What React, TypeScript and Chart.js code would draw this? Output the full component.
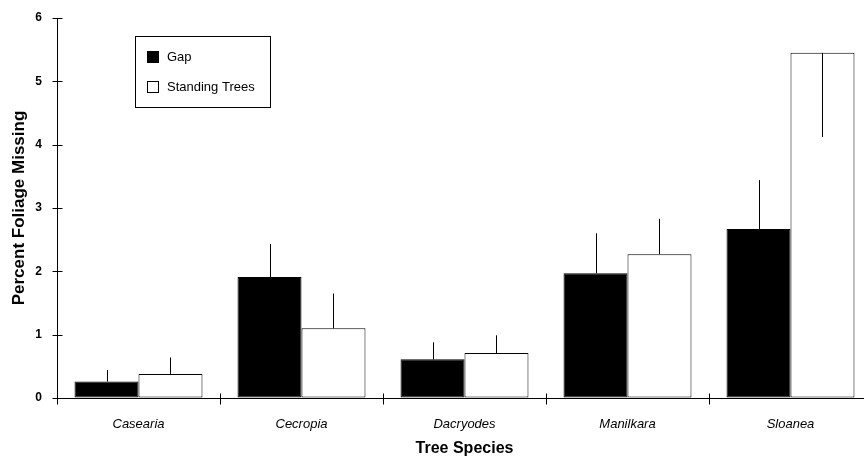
import React, { useEffect, useRef } from "react";
import { Chart, registerables } from "chart.js";

Chart.register(...registerables);

const categories = ["Casearia", "Cecropia", "Dacryodes", "Manilkara", "Sloanea"];
const gapValues = [0.26, 1.91, 0.61, 1.97, 2.67];
const gapErrors = [0.18, 0.52, 0.27, 0.63, 0.77];
const standingValues = [0.38, 1.1, 0.71, 2.27, 5.45];
const standingErrors = [0.26, 0.55, 0.28, 0.56, -1.33];
const yTicks = [0, 1, 2, 3, 4, 5, 6];
const seriesLabels = ["Gap", "Standing Trees"];

const FONT = "'Liberation Sans', Arial, Helvetica, sans-serif";

const errorBarPlugin = {
  id: "errorBars",
  afterDatasetsDraw(chart: any) {
    const { ctx, chartArea } = chart;
    const yScale = chart.scales.y;
    ctx.save();
    ctx.beginPath();
    ctx.rect(chartArea.left, chartArea.top - 1, chartArea.right - chartArea.left, chartArea.bottom - chartArea.top + 1);
    ctx.clip();
    ctx.strokeStyle = "#000";
    ctx.lineWidth = 1;
    chart.data.datasets.forEach((ds: any, di: number) => {
      const meta = chart.getDatasetMeta(di);
      const errs: number[] = ds.errors;
      meta.data.forEach((bar: any, i: number) => {
        const v = ds.data[i];
        const e = errs[i];
        const x = Math.round(bar.x) + 0.5;
        const y0 = yScale.getPixelForValue(v);
        const y1 = yScale.getPixelForValue(v + e);
        ctx.beginPath();
        ctx.moveTo(x, y0);
        ctx.lineTo(x, y1);
        ctx.stroke();
      });
    });
    ctx.restore();
  },
};

const axisTicksPlugin = {
  id: "crossTicks",
  afterDraw(chart: any) {
    const { ctx, chartArea } = chart;
    const yScale = chart.scales.y;
    const xScale = chart.scales.x;
    ctx.save();
    ctx.strokeStyle = "#000";
    ctx.lineWidth = 1;
    const ax = Math.round(chartArea.left) + 0.5;
    yTicks.forEach((t) => {
      const y = Math.round(yScale.getPixelForValue(t)) + 0.5;
      ctx.beginPath();
      ctx.moveTo(ax - 5, y);
      ctx.lineTo(ax + 5, y);
      ctx.stroke();
    });
    const by = Math.round(chartArea.bottom) + 0.5;
    for (let i = 0; i <= categories.length; i++) {
      const x = Math.round(xScale.getPixelForValue(i - 0.5)) + 0.5;
      ctx.beginPath();
      ctx.moveTo(x, by - 5);
      ctx.lineTo(x, by + 6);
      ctx.stroke();
    }
    ctx.restore();
  },
};

const legendBoxPlugin = {
  id: "legendBox",
  afterDraw(chart: any) {
    const { ctx, chartArea } = chart;
    const left = chartArea.left + 78;
    const top = chartArea.top + 18;
    ctx.save();
    ctx.strokeStyle = "#000";
    ctx.lineWidth = 1;
    ctx.fillStyle = "#fff";
    ctx.fillRect(left, top, 135, 71);
    ctx.strokeRect(left + 0.5, top + 0.5, 135, 71);
    ctx.font = `13px ${FONT}`;
    ctx.textBaseline = "middle";
    chart.data.datasets.forEach((ds: any, i: number) => {
      const cy = top + 21 + i * 30;
      ctx.fillStyle = ds.backgroundColor;
      ctx.fillRect(left + 12, cy - 6, 12, 12);
      ctx.strokeStyle = "#000";
      ctx.strokeRect(left + 12.5, cy - 5.5, 11, 11);
      ctx.fillStyle = "#000";
      ctx.fillText(ds.label, left + 32, cy);
    });
    ctx.restore();
  },
};

export default function App() {
  const canvasRef = useRef<HTMLCanvasElement | null>(null);

  useEffect(() => {
    if (!canvasRef.current) return;
    const chart = new Chart(canvasRef.current, {
      type: "bar",
      data: {
        labels: categories,
        datasets: [
          {
            label: seriesLabels[0],
            data: gapValues,
            errors: gapErrors,
            backgroundColor: "#000",
            borderColor: "#000",
            borderWidth: 1,
            borderSkipped: false,
            categoryPercentage: 0.785,
            barPercentage: 1.0,
          } as any,
          {
            label: seriesLabels[1],
            data: standingValues,
            errors: standingErrors,
            backgroundColor: "#fff",
            borderColor: "#000",
            borderWidth: 1,
            borderSkipped: false,
            categoryPercentage: 0.785,
            barPercentage: 1.0,
          } as any,
        ],
      },
      options: {
        responsive: false,
        animation: false,
        layout: { padding: { top: 18, right: 8, left: 0, bottom: 0 } },
        plugins: {
          legend: { display: false },
          tooltip: { enabled: false },
        },
        scales: {
          x: {
            afterFit: (s: any) => {
              s.height = 58;
              s.paddingLeft = 0;
              s.paddingRight = 0;
            },
            grid: { display: true, drawOnChartArea: false, drawTicks: false, offset: true, color: "rgba(0,0,0,0)" },
            border: { display: true, color: "#000", width: 1 },
            ticks: {
              color: "#000",
              padding: 19,
              font: { family: FONT, size: 13, style: "italic" },
            },
            title: {
              display: true,
              text: "Tree Species",
              color: "#000",
              font: { family: FONT, size: 16, weight: "bold" },
              padding: { top: 0, bottom: -2 },
            },
          },
          y: {
            min: 0,
            max: 6,
            afterFit: (s: any) => {
              s.width = 57;
              s.paddingTop = 0;
              s.paddingBottom = 0;
            },
            afterBuildTicks: (s: any) => {
              s.ticks = yTicks.map((v) => ({ value: v }));
            },
            grid: { display: true, drawOnChartArea: false, drawTicks: false, color: "rgba(0,0,0,0)" },
            border: { display: true, color: "#000", width: 1 },
            ticks: {
              color: "#000",
              padding: 15,
              font: { family: FONT, size: 12, weight: "bold" },
            },
            title: {
              display: true,
              text: "Percent Foliage Missing",
              color: "#000",
              font: { family: FONT, size: 17, weight: "bold" },
              padding: { top: 9, bottom: 0 },
            },
          },
        },
      } as any,
      plugins: [errorBarPlugin, axisTicksPlugin, legendBoxPlugin],
    });
    return () => chart.destroy();
  }, []);

  return (
    <div
      style={{
        position: "fixed",
        left: 0,
        top: 0,
        width: 864,
        height: 456,
        overflow: "hidden",
        background: "#fff",
      }}
    >
      <canvas ref={canvasRef} width={880} height={456} style={{ display: "block" }} />
    </div>
  );
}
